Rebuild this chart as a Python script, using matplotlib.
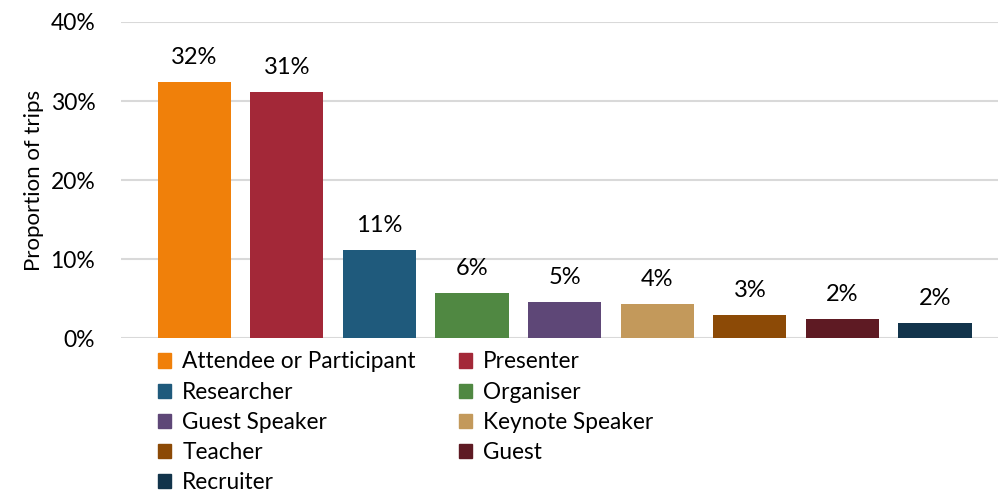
import matplotlib.pyplot as plt
from matplotlib.patches import Patch

roles = ['Attendee or Participant', 'Presenter', 'Researcher', 'Organiser',
         'Guest Speaker', 'Keynote Speaker', 'Teacher', 'Guest', 'Recruiter']
shares = [0.324, 0.312, 0.111, 0.057, 0.046, 0.043, 0.029, 0.024, 0.019]
colors = ['#F0800A', '#A32838', '#1F5A7C', '#508842', '#5E4777',
          '#C3995B', '#8C4A06', '#5E1A23', '#12344B']
yticks = [0, 0.1, 0.2, 0.3, 0.4]


def main():
    plt.rcParams['font.family'] = ['Lato', 'DejaVu Sans']
    fig = plt.figure(figsize=(9.98, 4.94), dpi=100)
    ax = fig.add_axes([121 / 998, 1 - 338 / 494, 877 / 998, 316 / 494])

    x = range(len(roles))
    bars = ax.bar(x, shares, width=0.79, color=colors, zorder=2)
    for b, v in zip(bars, shares):
        ax.annotate(f'{v:.0%}', (b.get_x() + b.get_width() / 2, v),
                    xytext=(0, 10), textcoords='offset points',
                    ha='center', va='bottom', fontsize=17, color='#000000')

    ax.set_xlim(-0.79, 8.68)
    ax.set_ylim(0, 0.4)
    ax.set_yticks(yticks)
    ax.set_yticklabels([f'{t:.0%}' for t in yticks], fontsize=16.5)
    ax.set_xticks([])
    ax.tick_params(axis='y', length=0, pad=18.5)
    ax.grid(axis='y', color='#D9D9D9', linewidth=1.5, zorder=0)
    for s in ax.spines.values():
        s.set_visible(False)
    ax.set_ylabel('Proportion of trips', fontsize=16, labelpad=5)

    handles = [Patch(color=c, label=r) for r, c in zip(roles, colors)]
    order = [0, 2, 4, 6, 8, 1, 3, 5, 7]
    ax.legend([handles[i] for i in order], [roles[i] for i in order],
              ncol=2, frameon=False, fontsize=16.3,
              loc='upper left', bbox_to_anchor=(0.032, -0.014),
              handlelength=0.58, handleheight=0.58, handletextpad=0.49,
              columnspacing=1.9, labelspacing=0.40, borderaxespad=0)

    fig.savefig('out.png', dpi=100)


if __name__ == "__main__":
    main()
